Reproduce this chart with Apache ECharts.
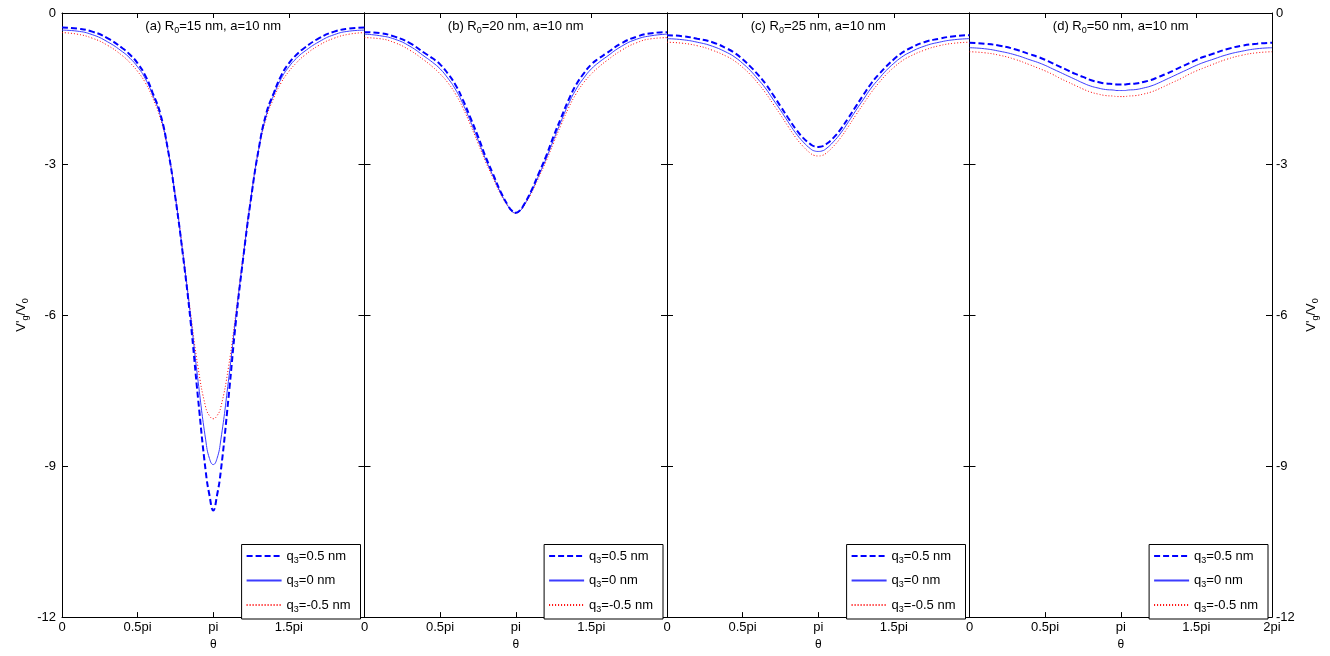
<!DOCTYPE html>
<html>
<head>
<meta charset="utf-8">
<script src="https://cdn.jsdelivr.net/npm/echarts@6/dist/echarts.min.js"></script>
<style>html,body{margin:0;padding:0;background:#fff}#c{width:1330px;height:656px}</style>
</head>
<body>
<div id="c"></div>
<script>
// theta in units of pi
const theta = [0,0.1,0.2,0.3,0.4,0.45,0.5,0.55,0.6,0.65,0.7,0.75,0.8,0.85,0.9,0.95,0.975,1.0,1.025,1.05,1.1,1.15,1.2,1.25,1.3,1.35,1.4,1.45,1.5,1.55,1.6,1.7,1.8,1.9,2.0];
const xTickLabels = {0:'0',0.5:'0.5pi',1:'pi',1.5:'1.5pi',2:'2pi'};
const yTicks = [0,-3,-6,-9,-12];
const panelTitles = [['(a) R','0','=15 nm, a=10 nm'],['(b) R','0','=20 nm, a=10 nm'],['(c) R','0','=25 nm, a=10 nm'],['(d) R','0','=50 nm, a=10 nm']];
const seriesNames = ['q3=0.5 nm','q3=0 nm','q3=-0.5 nm'];
const legendParts = [['q','3','=0.5 nm'],['q','3','=0 nm'],['q','3','=-0.5 nm']];

// panel (a) R0=15
const a_q05 = [-0.29,-0.31,-0.37,-0.50,-0.70,-0.83,-1.00,-1.24,-1.59,-2.00,-2.71,-3.68,-4.82,-6.12,-7.67,-9.10,-9.58,-9.88,-9.58,-9.10,-7.67,-6.12,-4.82,-3.68,-2.71,-2.00,-1.59,-1.24,-1.00,-0.83,-0.70,-0.50,-0.37,-0.31,-0.29];
const a_q0  = [-0.34,-0.36,-0.43,-0.57,-0.77,-0.90,-1.07,-1.30,-1.63,-2.04,-2.71,-3.66,-4.80,-6.02,-7.32,-8.48,-8.85,-8.97,-8.85,-8.48,-7.32,-6.02,-4.80,-3.66,-2.71,-2.04,-1.63,-1.30,-1.07,-0.90,-0.77,-0.57,-0.43,-0.36,-0.34];
const a_qm05= [-0.39,-0.42,-0.50,-0.64,-0.85,-0.99,-1.16,-1.38,-1.69,-2.09,-2.73,-3.64,-4.76,-5.95,-7.05,-7.83,-8.00,-8.06,-8.00,-7.83,-7.05,-5.95,-4.76,-3.64,-2.73,-2.09,-1.69,-1.38,-1.16,-0.99,-0.85,-0.64,-0.50,-0.42,-0.39];
// panel (b) R0=20
const b_q05 = [-0.38,-0.40,-0.47,-0.60,-0.80,-0.90,-1.02,-1.20,-1.42,-1.72,-2.08,-2.45,-2.85,-3.20,-3.55,-3.83,-3.93,-3.97,-3.93,-3.83,-3.55,-3.20,-2.85,-2.45,-2.08,-1.72,-1.42,-1.20,-1.02,-0.90,-0.80,-0.60,-0.47,-0.40,-0.38];
const b_q0  = [-0.42,-0.45,-0.52,-0.66,-0.87,-0.98,-1.11,-1.29,-1.51,-1.80,-2.15,-2.52,-2.90,-3.24,-3.57,-3.84,-3.94,-3.97,-3.94,-3.84,-3.57,-3.24,-2.90,-2.52,-2.15,-1.80,-1.51,-1.29,-1.11,-0.98,-0.87,-0.66,-0.52,-0.45,-0.42];
const b_qm05= [-0.49,-0.51,-0.59,-0.74,-0.95,-1.07,-1.21,-1.38,-1.60,-1.88,-2.22,-2.58,-2.95,-3.28,-3.60,-3.85,-3.94,-3.98,-3.94,-3.85,-3.60,-3.28,-2.95,-2.58,-2.22,-1.88,-1.60,-1.38,-1.21,-1.07,-0.95,-0.74,-0.59,-0.51,-0.49];
// panel (c) R0=25
const c_q05 = [-0.44,-0.46,-0.51,-0.58,-0.71,-0.80,-0.92,-1.06,-1.22,-1.40,-1.62,-1.85,-2.08,-2.30,-2.48,-2.61,-2.65,-2.66,-2.65,-2.61,-2.48,-2.30,-2.08,-1.85,-1.62,-1.40,-1.22,-1.06,-0.92,-0.80,-0.71,-0.58,-0.51,-0.46,-0.44];
const c_q0  = [-0.51,-0.53,-0.58,-0.66,-0.79,-0.88,-1.00,-1.14,-1.31,-1.49,-1.71,-1.93,-2.16,-2.38,-2.56,-2.70,-2.74,-2.75,-2.74,-2.70,-2.56,-2.38,-2.16,-1.93,-1.71,-1.49,-1.31,-1.14,-1.00,-0.88,-0.79,-0.66,-0.58,-0.53,-0.51];
const c_qm05= [-0.58,-0.60,-0.65,-0.74,-0.87,-0.96,-1.08,-1.22,-1.39,-1.58,-1.80,-2.02,-2.25,-2.47,-2.65,-2.79,-2.83,-2.84,-2.83,-2.79,-2.65,-2.47,-2.25,-2.02,-1.80,-1.58,-1.39,-1.22,-1.08,-0.96,-0.87,-0.74,-0.65,-0.60,-0.58];
// panel (d) R0=50
const d_q05 = [-0.59,-0.61,-0.65,-0.72,-0.82,-0.87,-0.93,-1.00,-1.07,-1.14,-1.21,-1.27,-1.33,-1.37,-1.40,-1.41,-1.42,-1.42,-1.42,-1.41,-1.40,-1.37,-1.33,-1.27,-1.21,-1.14,-1.07,-1.00,-0.93,-0.87,-0.82,-0.72,-0.65,-0.61,-0.59];
const d_q0  = [-0.69,-0.71,-0.76,-0.83,-0.93,-0.98,-1.04,-1.11,-1.18,-1.25,-1.32,-1.39,-1.45,-1.49,-1.52,-1.53,-1.54,-1.54,-1.54,-1.53,-1.52,-1.49,-1.45,-1.39,-1.32,-1.25,-1.18,-1.11,-1.04,-0.98,-0.93,-0.83,-0.76,-0.71,-0.69];
const d_qm05= [-0.77,-0.79,-0.84,-0.92,-1.03,-1.09,-1.15,-1.22,-1.30,-1.37,-1.44,-1.51,-1.57,-1.61,-1.64,-1.65,-1.66,-1.66,-1.66,-1.65,-1.64,-1.61,-1.57,-1.51,-1.44,-1.37,-1.30,-1.22,-1.15,-1.09,-1.03,-0.92,-0.84,-0.79,-0.77];

const panels = [[a_q05,a_q0,a_qm05],[b_q05,b_q0,b_qm05],[c_q05,c_q0,c_qm05],[d_q05,d_q0,d_qm05]];

const FONT = 'Liberation Sans, Arial, sans-serif';
const PL = 62, PT = 13, PB = 625, PW = 302.5;
const axisCol = '#000';
const styles = [
  {color:'#0000ff', width:2, type:[6,3]},
  {color:'#3c3cff', width:1, type:'solid'},
  {color:'#ff0000', width:1, type:[1,2]}
];
const rich = {
  t:{fontSize:13, fontFamily:FONT, color:'#000', lineHeight:18, verticalAlign:'middle'},
  s:{fontSize:9, fontFamily:FONT, color:'#000', lineHeight:9, verticalAlign:'bottom'}
};
const ylabelText = '{t|V\'}{s|g}{t|/V}{s|0}';

const grid=[], xAxis=[], yAxis=[], series=[], legend=[], graphic=[];
for (let i=0;i<4;i++){
  const left = PL + i*PW;
  grid.push({left:left, top:PT, width:PW, height:PB-PT});
  xAxis.push({gridIndex:i, type:'value', min:0, max:2, interval:0.5, position:'bottom',
    axisLine:{show:true, onZero:false, lineStyle:{color:axisCol, width:1}},
    axisTick:{show:true, inside:true, length:5, lineStyle:{color:axisCol}},
    axisLabel:{show:true, color:'#000', fontSize:13, fontFamily:FONT, margin:4,
      showMinLabel:true, showMaxLabel:(i===3), formatter:v=>xTickLabels[v]},
    splitLine:{show:false},
    name:'θ', nameLocation:'middle', nameGap:18, nameTextStyle:{color:'#000', fontSize:12, fontFamily:FONT}});
  xAxis.push({gridIndex:i, type:'value', min:0, max:2, interval:0.5, position:'top',
    axisLine:{show:true, onZero:false, lineStyle:{color:axisCol, width:1}},
    axisTick:{show:true, inside:true, length:5, lineStyle:{color:axisCol}},
    axisLabel:{show:false}, splitLine:{show:false}});
  yAxis.push({gridIndex:i, type:'value', min:-12, max:0, interval:3, position:'left',
    axisLine:{show:true, onZero:false, lineStyle:{color:axisCol, width:1}},
    axisTick:{show:true, inside:true, length:6, lineStyle:{color:axisCol}},
    axisLabel:{show:(i===0), color:'#000', fontSize:13, fontFamily:FONT, margin:6},
    splitLine:{show:false},
    name:(i===0?ylabelText:''), nameLocation:'middle', nameGap:32, nameRotate:90,
    nameTextStyle:{rich:rich, padding:[0,0,0,0]}});
  yAxis.push({gridIndex:i, type:'value', min:-12, max:0, interval:3, position:'right',
    axisLine:{show:true, onZero:false, lineStyle:{color:axisCol, width:1}},
    axisTick:{show:true, inside:true, length:6, lineStyle:{color:axisCol}},
    axisLabel:{show:(i===3), color:'#000', fontSize:13, fontFamily:FONT, margin:4},
    splitLine:{show:false},
    name:(i===3?ylabelText:''), nameLocation:'middle', nameGap:30, nameRotate:90,
    nameTextStyle:{rich:rich}});
  panels[i].forEach((vals,k)=>{
    series.push({type:'line', name:seriesNames[k], xAxisIndex:2*i, yAxisIndex:2*i,
      data: theta.map((t,j)=>[t, vals[j]]), smooth:true, symbol:'none', showSymbol:false,
      lineStyle:styles[k], itemStyle:{color:styles[k].color}, z: 3-k, silent:true, animation:false});
  });
  legend.push({orient:'vertical', right: 1330 - (left+PW-4), bottom: 656-619,
    data: seriesNames, itemWidth:35, itemHeight:14, itemGap:9,
    padding:[5,10,5,4], borderColor:'#000', borderWidth:1, backgroundColor:'#fff',
    selectedMode:false,
    itemStyle:{opacity:0, borderWidth:0},
    textStyle:{rich:rich},
    formatter: n => { const p = legendParts[seriesNames.indexOf(n)]; return '{t|'+p[0]+'}{s|'+p[1]+'}{t|'+p[2]+'}'; }});
  const tp = panelTitles[i];
  graphic.push({type:'text', x:left+PW/2, y:26, z:100,
    style:{text:'{t|'+tp[0]+'}{s|'+tp[1]+'}{t|'+tp[2]+'}', rich:rich, align:'center', verticalAlign:'middle'}});
}

const chart = echarts.init(document.getElementById('c'));
chart.setOption({animation:false, backgroundColor:'#fff', grid, xAxis, yAxis, series, legend, graphic});
</script>
</body>
</html>
